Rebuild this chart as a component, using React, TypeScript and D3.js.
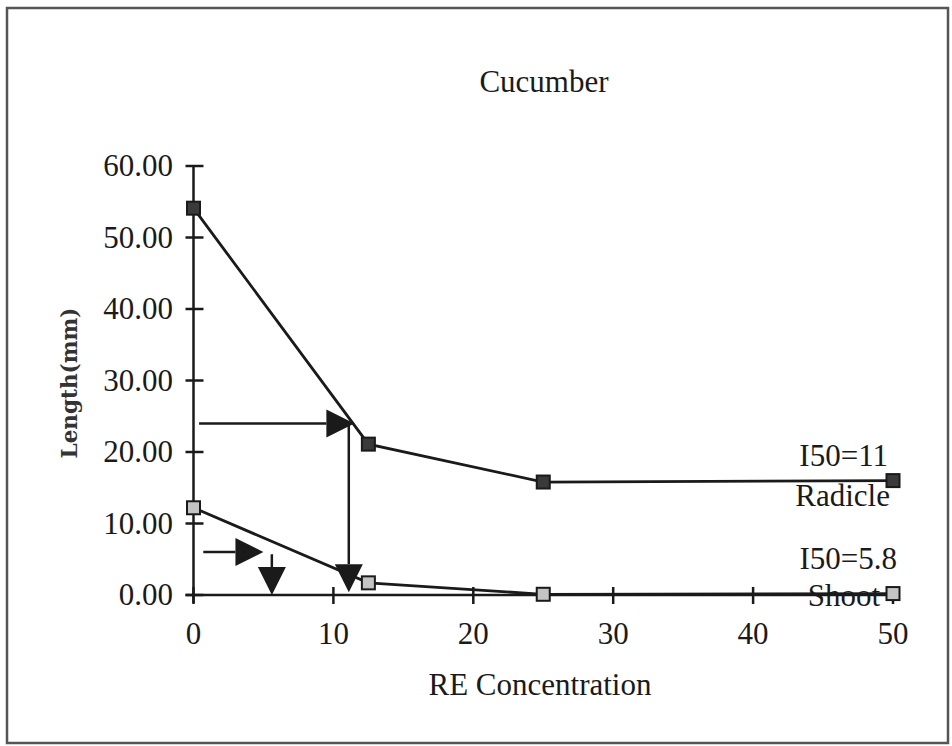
import React from "react";
import * as d3 from "d3";

// Cucumber: radicle and shoot length vs RE concentration

const concentrations = [0, 12.5, 25, 50];
const radicleLength = [54.1, 21.1, 15.8, 16.0];
const shootLength = [12.2, 1.7, 0.1, 0.2];
const xTicks = [0, 10, 20, 30, 40, 50];
const yTicks = [0, 10, 20, 30, 40, 50, 60];

// I50 read-off arrows: horizontal at the half level, then down to the axis
const i50Arrows = [
  { name: "Radicle", level: 24.0, hFrom: 0.4, hTo: 11.5, vx: 11.1, vFrom: 24.0, vTo: 0.4 },
  { name: "Shoot", level: 6.0, hFrom: 0.7, hTo: 5.0, vx: 5.6, vFrom: 5.7, vTo: 0.0 },
];

const seriesLabels = [
  { i50: "I50=11", name: "Radicle" },
  { i50: "I50=5.8", name: "Shoot" },
];

const W = 952;
const H = 746;
const font = "'Liberation Serif', 'Times New Roman', serif";
const ink = "#1a1a1a";

function CucumberPlot() {
  const x = d3.scaleLinear().domain([0, 50]).range([193.5, 893]);
  const y = d3.scaleLinear().domain([0, 60]).range([595, 166]);

  const line = d3
    .line<[number, number]>()
    .x((d) => x(d[0]))
    .y((d) => y(d[1]));

  const radPts: [number, number][] = concentrations.map((c, i) => [c, radicleLength[i]]);
  const shootPts: [number, number][] = concentrations.map((c, i) => [c, shootLength[i]]);

  const ms = 13;
  const head = 14;
  const headLen = 28;

  return (
    <svg width={W} height={H} style={{ position: "absolute", left: 0, top: 0, background: "#fff" }}>
      <rect x={7} y={8} width={941} height={735} fill="#fff" stroke="#555" strokeWidth={2.5} />

      <text x={544} y={92} textAnchor="middle" fontFamily={font} fontSize={31} fill={ink}>
        Cucumber
      </text>

      {/* y axis */}
      <line x1={x(0)} x2={x(0)} y1={y(60)} y2={y(0) + 8} stroke={ink} strokeWidth={2.5} />
      {yTicks.map((t) => (
        <g key={"y" + t}>
          <line x1={x(0) - 8} x2={x(0) + 10} y1={y(t)} y2={y(t)} stroke={ink} strokeWidth={2.5} />
          <text x={173} y={y(t)} dy="0.33em" textAnchor="end" fontFamily={font} fontSize={31} fill={ink}>
            {t.toFixed(2)}
          </text>
        </g>
      ))}

      {/* x axis */}
      <line x1={x(0) - 8} x2={x(50) + 7} y1={y(0)} y2={y(0)} stroke={ink} strokeWidth={2.5} />
      {xTicks.map((t) => (
        <g key={"x" + t}>
          <line x1={x(t)} x2={x(t)} y1={y(0) - 8} y2={y(0) + 9} stroke={ink} strokeWidth={2.5} />
          <text x={x(t)} y={644} textAnchor="middle" fontFamily={font} fontSize={31} fill={ink}>
            {t}
          </text>
        </g>
      ))}

      <text x={540} y={695} textAnchor="middle" fontFamily={font} fontSize={31} fill={ink}>
        RE Concentration
      </text>
      <text
        transform="translate(77,383) rotate(-90)"
        textAnchor="middle"
        fontFamily="'DejaVu Serif', serif"
        fontWeight="bold"
        fontSize={21.5}
        fill="#333"
      >
        Length(mm)
      </text>

      {/* series lines */}
      <path d={line(radPts) ?? ""} fill="none" stroke={ink} strokeWidth={2.8} />
      <path d={line(shootPts) ?? ""} fill="none" stroke={ink} strokeWidth={2.8} />

      {/* I50 arrows */}
      {i50Arrows.map((a) => {
        const hy = y(a.level);
        const hx1 = x(a.hFrom);
        const hx2 = x(a.hTo);
        const vx = x(a.vx);
        const vy1 = y(a.vFrom);
        const vy2 = y(a.vTo);
        return (
          <g key={a.name}>
            <line x1={hx1} x2={hx2 - headLen} y1={hy} y2={hy} stroke={ink} strokeWidth={2.5} />
            <path
              d={`M${hx2},${hy} L${hx2 - headLen},${hy - head} L${hx2 - headLen},${hy + head} Z`}
              fill={ink}
            />
            <line x1={vx} x2={vx} y1={vy1} y2={vy2 - headLen} stroke={ink} strokeWidth={2.5} />
            <path
              d={`M${vx},${vy2} L${vx - head},${vy2 - headLen} L${vx + head},${vy2 - headLen} Z`}
              fill={ink}
            />
          </g>
        );
      })}

      {/* markers */}
      {radPts.map((p, i) => (
        <rect
          key={"r" + i}
          x={x(p[0]) - ms / 2}
          y={y(p[1]) - ms / 2}
          width={ms}
          height={ms}
          fill="#3a3a3a"
          stroke={ink}
          strokeWidth={2}
        />
      ))}
      {shootPts.map((p, i) => (
        <rect
          key={"s" + i}
          x={x(p[0]) - ms / 2}
          y={y(p[1]) - ms / 2}
          width={ms}
          height={ms}
          fill="#c4c4c4"
          stroke={ink}
          strokeWidth={2}
        />
      ))}

      {/* end labels */}
      <text x={888} y={y(radicleLength[3]) - 15} textAnchor="end" fontFamily={font} fontSize={31} fill={ink}>
        {seriesLabels[0].i50}
      </text>
      <text x={890} y={y(radicleLength[3]) + 25} textAnchor="end" fontFamily={font} fontSize={31} fill={ink}>
        {seriesLabels[0].name}
      </text>
      <text x={897} y={y(shootLength[3]) - 25} textAnchor="end" fontFamily={font} fontSize={31} fill={ink}>
        {seriesLabels[1].i50}
      </text>
      <text x={880} y={y(shootLength[3]) + 12} textAnchor="end" fontFamily={font} fontSize={31} fill={ink}>
        {seriesLabels[1].name}
      </text>
    </svg>
  );
}

export default function App() {
  return <CucumberPlot />;
}
